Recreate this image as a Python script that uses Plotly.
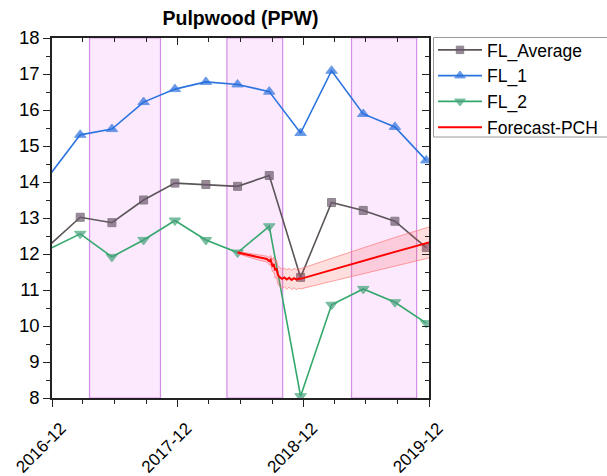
import plotly.graph_objects as go

# Quarterly observations (first point sits just left of the visible range)
dates = ["2016-12-01", "2017-03-01", "2017-06-01", "2017-09-01", "2017-12-01",
         "2018-03-01", "2018-06-01", "2018-09-01", "2018-12-01", "2019-03-01",
         "2019-06-01", "2019-09-01", "2019-12-01"]
fl_average = [12.24, 13.02, 12.87, 13.50, 13.97, 13.93, 13.88, 14.18, 11.35, 13.43, 13.21, 12.91, 12.18]
fl_1 = [14.18, 15.31, 15.47, 16.22, 16.58, 16.78, 16.71, 16.51, 15.36, 17.09, 15.89, 15.53, 14.60]
fl_2 = [12.14, 12.56, 11.92, 12.39, 12.93, 12.39, 12.04, 12.77, 8.05, 10.59, 11.03, 10.66, 10.08]

# Forecast path and its uncertainty half-width
fc_dates = ["2018-06-01", "2018-07-01", "2018-08-01", "2018-08-25", "2018-09-01",
            "2018-09-05", "2018-09-10", "2018-09-14", "2018-09-18", "2018-09-22",
            "2018-09-26", "2018-10-01", "2018-10-08", "2018-10-15", "2018-10-22",
            "2018-10-29", "2018-11-05", "2018-11-12", "2018-11-19", "2018-11-26",
            "2018-12-01", "2019-03-01", "2019-06-01", "2019-09-01", "2019-12-09"]
fc_values = [12.04, 11.97, 11.90, 11.86, 11.80, 11.84, 11.68, 11.72, 11.55, 11.60,
             11.42, 11.36, 11.31, 11.35, 11.29, 11.34, 11.28, 11.33, 11.29, 11.32,
             11.31, 11.56, 11.81, 12.06, 12.32]
fc_halfwidth = [0.03, 0.05, 0.07, 0.08, 0.10, 0.12, 0.16, 0.19, 0.22, 0.24,
                0.25, 0.26, 0.27, 0.26, 0.27, 0.26, 0.27, 0.27, 0.28, 0.27,
                0.28, 0.32, 0.36, 0.40, 0.43]

# Highlighted periods
periods = [("2017-03-28", "2017-10-20"), ("2018-05-01", "2018-10-10"), ("2019-04-28", "2019-11-03")]

# Axis labels
x_tickvals = ["2016-12-09", "2017-12-09", "2018-12-09", "2019-12-09"]
x_ticktext = ["2016-12", "2017-12", "2018-12", "2019-12"]

FONT = "Liberation Sans, Arial, sans-serif"
W, H = 607, 476
L, R, T, B = 52, 178, 38, 78
PW, PH = W - L - R, H - T - B

fc_upper = [v + h for v, h in zip(fc_values, fc_halfwidth)]
fc_lower = [v - h for v, h in zip(fc_values, fc_halfwidth)]

sq_sizes = [0] + [8] * (len(dates) - 1)
tri_sizes = [0] + [10] * (len(dates) - 1)

fig = go.Figure()

fig.add_trace(go.Scatter(
    x=dates, y=fl_average, name="FL_Average", mode="lines+markers",
    line=dict(color="#5b5559", width=1.6),
    marker=dict(symbol="square", size=sq_sizes, color="#6e5a70"),
))
fig.add_trace(go.Scatter(
    x=dates, y=fl_1, name="FL_1", mode="lines+markers",
    line=dict(color="#2b74e0", width=1.6),
    marker=dict(symbol="triangle-up", size=tri_sizes, color="#2b6fdb"),
))
fig.add_trace(go.Scatter(
    x=dates, y=fl_2, name="FL_2", mode="lines+markers",
    line=dict(color="#34a86c", width=1.6),
    marker=dict(symbol="triangle-down", size=tri_sizes, color="#4a9e80"),
))

# Confidence band
fig.add_trace(go.Scatter(
    x=fc_dates, y=fc_lower, mode="lines", showlegend=False, hoverinfo="skip",
    line=dict(color="rgba(255,110,110,0.8)", width=0.8),
))
fig.add_trace(go.Scatter(
    x=fc_dates, y=fc_upper, mode="lines", showlegend=False, hoverinfo="skip",
    fill="tonexty", fillcolor="rgba(255,60,60,0.17)",
    line=dict(color="rgba(255,110,110,0.8)", width=0.8),
))
fig.add_trace(go.Scatter(
    x=fc_dates, y=fc_values, name="Forecast-PCH", mode="lines",
    line=dict(color="#ff0000", width=2),
))

# Invisible trace that carries the mirrored top/right axes
fig.add_trace(go.Scatter(x=[x_tickvals[0]], y=[8], xaxis="x2", yaxis="y2",
                         mode="markers", marker=dict(opacity=0), showlegend=False,
                         hoverinfo="skip"))

for start, end in periods:
    fig.add_shape(type="rect", xref="x", yref="paper", x0=start, x1=end, y0=0, y1=1,
                  fillcolor="rgba(250,215,252,0.55)",
                  line=dict(color="#d48ee8", width=1.2), layer="below")

# Legend frame (pixel box converted to paper units)
fig.add_shape(type="rect", xref="paper", yref="paper",
              x0=(433.5 - L) / PW, x1=(W + 2 - L) / PW,
              y0=(H - B - 137) / PH, y1=(H - B - 37.5) / PH,
              line=dict(color="#9a9a9a", width=1), fillcolor="rgba(0,0,0,0)")

x_range = ["2016-12-09", "2019-12-09"]

fig.update_layout(
    width=W, height=H,
    margin=dict(l=L, r=R, t=T, b=B, autoexpand=False),
    paper_bgcolor="white", plot_bgcolor="white",
    font=dict(family=FONT, color="black"),
    title=dict(text="<b>Pulpwood (PPW)</b>", x=(L + PW / 2) / W, xanchor="center",
               y=1 - 18 / H, yanchor="middle", font=dict(size=19.5, family=FONT)),
    showlegend=True,
    legend=dict(x=433 / W, y=1 - 32 / H, xref="container", yref="container",
                xanchor="left", yanchor="top",
                traceorder="normal", borderwidth=0, bgcolor="rgba(0,0,0,0)",
                font=dict(size=17.5, family=FONT), itemwidth=44,
                tracegroupgap=0),
    xaxis=dict(
        type="date", range=x_range, showgrid=False, zeroline=False, automargin=False,
        showline=True, linecolor="#222", linewidth=1.5,
        tickmode="array", tickvals=x_tickvals, ticktext=x_ticktext,
        ticks="outside", ticklen=7, tickwidth=1.3, tickcolor="#222",
        tickangle=-45, tickfont=dict(size=17, family=FONT),
        ticklabelstandoff=5, ticklabelshift=9,
        minor=dict(ticks="outside", tick0="2016-12-09", dtick="M3", ticklen=4,
                   tickwidth=1.2, tickcolor="#222", showgrid=False),
    ),
    yaxis=dict(
        range=[8, 18], dtick=1, showgrid=False, zeroline=False, automargin=False,
        showline=True, linecolor="#222", linewidth=1.5,
        ticks="outside", ticklen=7, tickwidth=1.3, tickcolor="#222",
        tickfont=dict(size=18.5, family=FONT),
        minor=dict(ticks="outside", dtick=0.5, ticklen=4, tickwidth=1.2,
                   tickcolor="#222", showgrid=False),
    ),
    xaxis2=dict(
        type="date", range=x_range, overlaying="x", side="top", showgrid=False,
        zeroline=False, showline=True, linecolor="#222", linewidth=1.5, automargin=False,
        tickmode="array", tickvals=x_tickvals, showticklabels=False,
        ticks="inside", ticklen=7, tickwidth=1.3, tickcolor="#222",
        minor=dict(ticks="inside", tick0="2016-12-09", dtick="M3", ticklen=4,
                   tickwidth=1.2, tickcolor="#222", showgrid=False),
    ),
    yaxis2=dict(
        range=[8, 18], dtick=1, overlaying="y", side="right", showgrid=False,
        zeroline=False, showline=True, linecolor="#222", linewidth=1.5, automargin=False,
        showticklabels=False, ticks="inside", ticklen=7, tickwidth=1.3, tickcolor="#222",
        minor=dict(ticks="inside", dtick=0.5, ticklen=4, tickwidth=1.2,
                   tickcolor="#222", showgrid=False),
    ),
)

fig.write_html("out.html")
